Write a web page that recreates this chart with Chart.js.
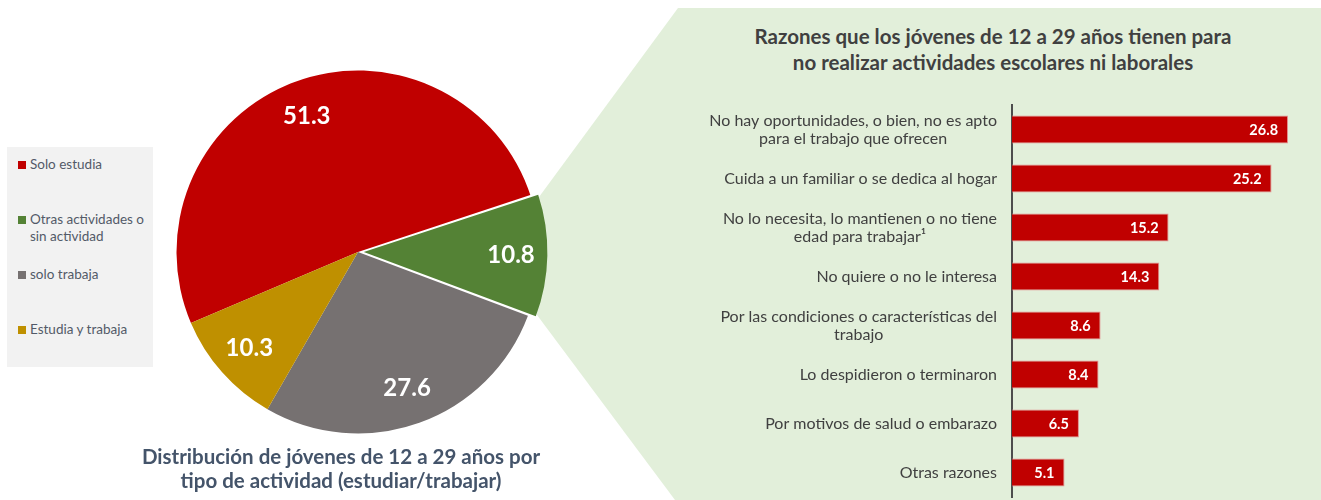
<!DOCTYPE html>
<html>
<head>
<meta charset="utf-8">
<title>Jóvenes de 12 a 29 años</title>
<script src="https://cdn.jsdelivr.net/npm/chart.js"></script>
<style>
  body { margin: 0; width: 1321px; height: 500px; position: relative; overflow: hidden; background: #fff; font-family: Lato, sans-serif; }
  #bg { position: absolute; left: 0; top: 0; width: 1321px; height: 500px; background: #e2efda;
        clip-path: polygon(678px 8px, 1321px 8px, 1321px 500px, 675px 500px, 537px 315px, 539px 197px); }
  #pieChart { position: absolute; left: 165px; top: 59px; }
  #barChart { position: absolute; left: 700px; top: 95px; }
  #legend { position: absolute; left: 7px; top: 147px; width: 146px; height: 220px; background: #f2f2f2;
            box-sizing: border-box; padding-top: 9px; }
  .item { position: relative; height: 55px; padding-left: 23px; font-size: 13.5px; line-height: 17px; color: #525a68; }
  .item span { position: absolute; left: 11px; top: 5px; width: 8px; height: 8px; }
  .title { position: absolute; font-weight: bold; font-size: 20.5px; text-align: center; white-space: nowrap; }
  #barTitle { left: 693px; width: 600px; top: 23px; line-height: 26px; color: #404040; }
  #pieTitle { left: 41px; width: 600px; top: 444px; line-height: 24px; color: #44546a; }
</style>
</head>
<body>
<div id="bg"></div>
<div id="legend"></div>
<canvas id="pieChart" width="386" height="386"></canvas>
<canvas id="barChart" width="621" height="405"></canvas>
<div class="title" id="barTitle">Razones que los jóvenes de 12 a 29 años tienen para<br>no realizar actividades escolares ni laborales</div>
<div class="title" id="pieTitle">Distribución de jóvenes de 12 a 29 años por<br>tipo de actividad (estudiar/trabajar)</div>

<script>
  // pie: tipo de actividad
  const tipos = [['Solo estudia'], ['Otras actividades o', 'sin actividad'], ['solo trabaja'], ['Estudia y trabaja']];
  const distribucion = [51.3, 10.8, 27.6, 10.3];
  const coloresTipo = ['#c00000', '#548235', '#767171', '#bf9000'];

  // barras: razones
  const razones = [
    ['No hay oportunidades, o bien, no es apto', 'para el trabajo que ofrecen'],
    ['Cuida a un familiar o se dedica al hogar'],
    ['No lo necesita, lo mantienen o no tiene', 'edad para trabajar¹'],
    ['No quiere o no le interesa'],
    ['Por las condiciones o características del', 'trabajo'],
    ['Lo despidieron o terminaron'],
    ['Por motivos de salud o embarazo'],
    ['Otras razones']
  ];
  const porcentajes = [26.8, 25.2, 15.2, 14.3, 8.6, 8.4, 6.5, 5.1];

  // legend (html)
  const legend = document.getElementById('legend');
  tipos.forEach((lines, i) => {
    const div = document.createElement('div');
    div.className = 'item';
    div.innerHTML = '<span style="background:' + coloresTipo[i] + '"></span>' + lines.join('<br>');
    legend.appendChild(div);
  });

  // white value labels inside the slices
  const pieLabels = {
    id: 'pieLabels',
    afterDatasetsDraw(chart) {
      const ctx = chart.ctx;
      const meta = chart.getDatasetMeta(0);
      ctx.save();
      ctx.font = 'bold 24px Lato';
      ctx.fillStyle = '#ffffff';
      ctx.textAlign = 'center';
      ctx.textBaseline = 'middle';
      meta.data.forEach((arc, i) => {
        const p = arc.getProps(['x', 'y', 'startAngle', 'endAngle', 'outerRadius'], true);
        const mid = (p.startAngle + p.endAngle) / 2;
        // same shift chart.js applies to an offset arc
        const off = (arc.options.offset || 0) / 4;
        const fix = 1 - Math.sin(Math.min(Math.PI, p.endAngle - p.startAngle));
        const r = p.outerRadius * 0.8 + off * (1 + fix);
        ctx.fillText(distribucion[i].toFixed(1), p.x + Math.cos(mid) * r, p.y + Math.sin(mid) * r);
      });
      ctx.restore();
    }
  };

  new Chart(document.getElementById('pieChart'), {
    type: 'pie',
    data: {
      labels: tipos.map(l => l.join(' ')),
      datasets: [{
        data: distribucion,
        backgroundColor: coloresTipo,
        borderWidth: 0,
        offset: [0, 23, 0, 0],
        hoverOffset: 0
      }]
    },
    options: {
      responsive: false,
      animation: false,
      rotation: -113,
      plugins: { legend: { display: false }, tooltip: { enabled: false } }
    },
    plugins: [pieLabels]
  });

  // category labels (centered lines, right-aligned block) and bar values
  const barLabels = {
    id: 'barLabels',
    afterDraw(chart) {
      const ctx = chart.ctx;
      const yScale = chart.scales.y;
      ctx.save();
      ctx.font = '16px Lato';
      ctx.fillStyle = '#404040';
      ctx.textAlign = 'center';
      ctx.textBaseline = 'middle';
      razones.forEach((lines, i) => {
        const yc = yScale.getPixelForTick(i);
        const w = Math.max(...lines.map(l => ctx.measureText(l).width));
        const cx = chart.chartArea.left - 15 - w / 2;
        lines.forEach((l, j) => ctx.fillText(l, cx, yc + (j - (lines.length - 1) / 2) * 18));
      });
      ctx.font = 'bold 14.5px Lato';
      ctx.fillStyle = '#ffffff';
      ctx.textAlign = 'right';
      chart.getDatasetMeta(0).data.forEach((bar, i) => {
        ctx.fillText(porcentajes[i].toFixed(1), bar.x - 10, bar.y + 1);
      });
      ctx.restore();
    }
  };

  new Chart(document.getElementById('barChart'), {
    type: 'bar',
    data: {
      labels: razones.map(l => l.join(' ')),
      datasets: [{
        data: porcentajes,
        backgroundColor: '#c00000',
        borderColor: '#e39090',
        borderWidth: 1,
        borderSkipped: 'start',
        barPercentage: 0.57,
        categoryPercentage: 1
      }]
    },
    options: {
      indexAxis: 'y',
      responsive: false,
      animation: false,
      layout: { padding: { top: 10, bottom: 3, right: 0 } },
      plugins: { legend: { display: false }, tooltip: { enabled: false } },
      scales: {
        x: { display: false, min: 0, max: 30 },
        y: {
          ticks: { display: false },
          grid: { display: false, drawTicks: false },
          border: { display: true, color: '#4d4d4d', width: 2 },
          afterFit(scale) { scale.width = 312; }
        }
      }
    },
    plugins: [barLabels]
  });
</script>
</body>
</html>
